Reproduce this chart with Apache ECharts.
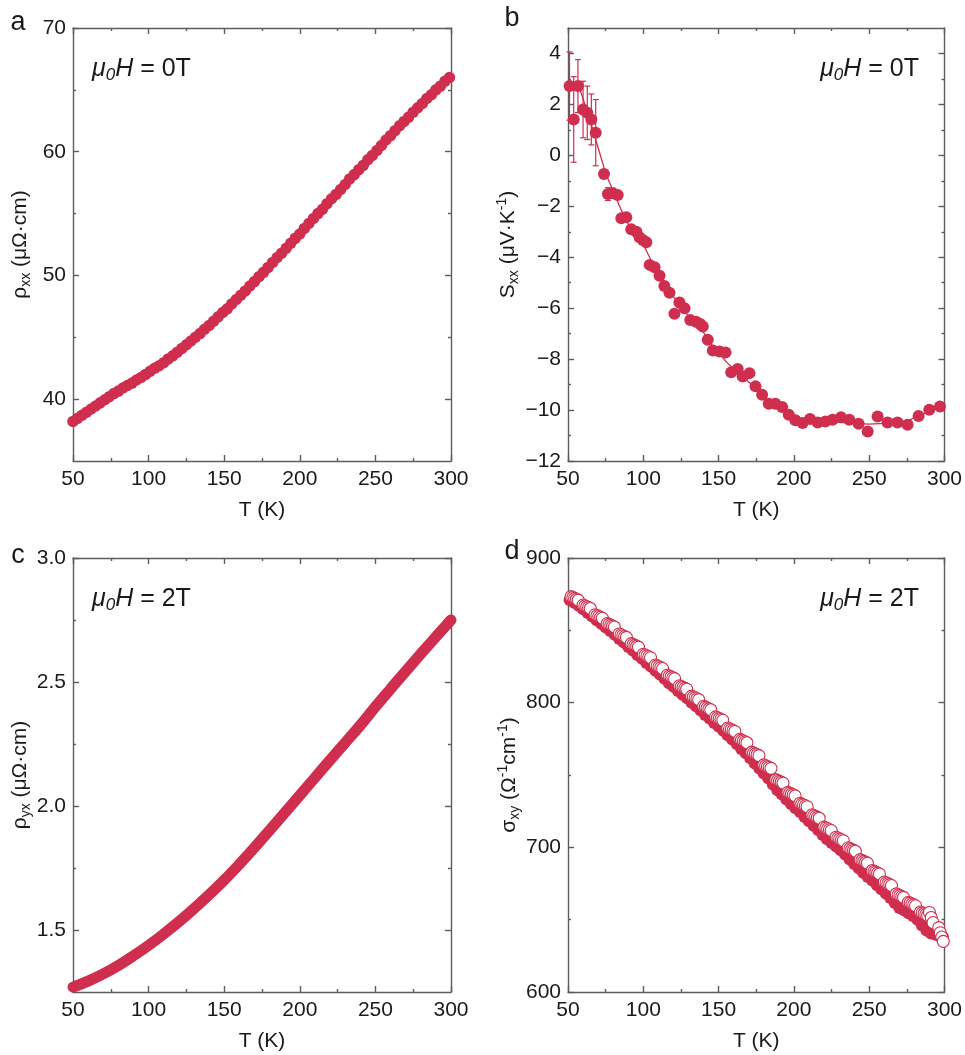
<!DOCTYPE html>
<html>
<head>
<meta charset="utf-8">
<script src="https://cdn.jsdelivr.net/npm/echarts@6/dist/echarts.min.js"></script>
<style>
  html, body { margin: 0; padding: 0; background: #ffffff; }
  #chart { width: 965px; height: 1055px; }
</style>
</head>
<body>
<div id="chart"></div>
<script>
// ---------- data ----------
// (a) longitudinal resistivity at 0 T
const T_A = [50,53,56,59,62,65,68,71,74,77,80,83,86,89,92,95,98,101,104,107,110,113,116,119,122,125,128,131,134,137,140,143,146,149,152,155,158,161,164,167,170,173,176,179,182,185,188,191,194,197,200,203,206,209,212,215,218,221,224,227,230,233,236,239,242,245,248,251,254,257,260,263,266,269,272,275,278,281,284,287,290,293,296,299];
const RHO_XX = [38.2,38.45,38.7,38.95,39.2,39.45,39.7,39.95,40.2,40.45,40.65,40.9,41.1,41.3,41.55,41.75,42.0,42.25,42.5,42.7,42.95,43.25,43.5,43.8,44.1,44.4,44.7,45.0,45.3,45.65,45.95,46.3,46.65,47.0,47.3,47.7,48.05,48.4,48.75,49.15,49.5,49.9,50.25,50.65,51.05,51.45,51.8,52.2,52.6,53.0,53.35,53.8,54.2,54.6,55.0,55.35,55.8,56.2,56.55,56.95,57.35,57.8,58.15,58.55,58.9,59.35,59.7,60.1,60.5,60.95,61.3,61.7,62.1,62.45,62.8,63.2,63.55,63.9,64.3,64.6,65.0,65.3,65.7,66.0];

// (b) Seebeck coefficient at 0 T, with error bar half-widths for the first points
const T_B = [51,53.8,56.6,60,62.8,65.5,68.4,73.9,76.5,79.8,83,85.4,88.7,92,95.4,97.5,99.7,102,104.2,107.5,110.8,114,117.4,120.7,124,127.4,131.2,135,137.8,139.5,142.8,146.2,150.6,154.6,158.4,162.7,166,170.5,174.5,178.9,183.3,187.7,192.2,196.6,201,205.8,210.7,215.8,220.9,225.7,231.3,236.8,243,249,255.6,262.2,268.8,275.5,282.8,289.9,297];
const S_XX = [2.72,1.41,2.72,1.80,1.67,1.41,0.89,-0.73,-1.52,-1.49,-1.56,-2.47,-2.43,-2.9,-3.0,-3.22,-3.32,-3.41,-4.3,-4.39,-4.73,-5.13,-5.39,-6.22,-5.78,-6.0,-6.46,-6.53,-6.62,-6.72,-7.24,-7.66,-7.7,-7.74,-8.52,-8.39,-8.68,-8.55,-9.07,-9.4,-9.75,-9.75,-9.88,-10.18,-10.4,-10.51,-10.35,-10.49,-10.45,-10.38,-10.28,-10.38,-10.54,-10.84,-10.25,-10.49,-10.49,-10.58,-10.23,-9.99,-9.86];
const S_ERR = [1.34,1.68,1.04,1.11,1.05,1.0,1.3,0,0.25,0.2,0.15];
const T_FIT = [50.5,57,59,65,70,75,80,85,90,95,100,105,110,115,120,125,130,135,140,145,150,155,160,165,170,175,180,185,190,195,200,205,210,220,230,240,250,260,270,275,280,290,297];
const S_FIT = [2.78,2.75,2.4,1.3,0.3,-0.7,-1.4,-2.1,-2.7,-3.1,-3.5,-4.1,-4.6,-5.1,-5.55,-5.95,-6.3,-6.6,-6.95,-7.4,-7.75,-8.1,-8.4,-8.65,-8.9,-9.15,-9.45,-9.7,-9.9,-10.1,-10.3,-10.42,-10.45,-10.47,-10.48,-10.52,-10.55,-10.52,-10.47,-10.45,-10.3,-10.05,-9.85];

// (c) Hall resistivity at 2 T
const T_C = [50,60,70,80,90,100,110,120,130,140,150,160,170,180,190,200,210,220,230,240,250,260,270,280,290,300];
const RHO_YX = [1.27,1.294,1.323,1.357,1.396,1.438,1.484,1.533,1.586,1.642,1.701,1.765,1.832,1.902,1.972,2.043,2.114,2.185,2.255,2.325,2.4,2.472,2.543,2.613,2.682,2.75];

// (d) Hall conductivity at 2 T: filled and open symbols
const T_D_FILLED = [51,54,57,60,63,66,69,72,75,78,81,84,87,90,93,96,99,102,105,108,111,114,117,120,123,126,129,132,135,138,141,144,147,150,153,156,159,162,165,168,171,174,177,180,183,186,189,192,195,198,201,204,207,210,213,216,219,222,225,228,231,234,237,240,243,246,249,252,255,258,261,264,267,270,273,276,279,282,285,288,291,294,297,299];
const SIGMA_XY_FILLED = [871,869,867,864.5,862,859.5,857,854.5,852,849.5,847,844,841.5,838.5,836,833,830.5,827.5,825,822,819.5,816.5,813.5,811,808,805.5,803,800,797.5,794.5,791.5,789,786,783.5,780.5,777.5,774.5,771.5,768,765,761.5,758,754.5,751,747.5,743.5,739.5,736.5,733,730,727,724.5,721,718,715,712,708.5,705.5,703,700.5,698,695,691.5,688.5,685.5,682.5,679.5,677,674,671,668,665,661.5,658,656.5,654.5,652.5,650,646,642.5,640.5,639.5,638.5,638];
const T_D_OPEN = [
  52,53.2,54.4,55.6,56.8, 60,61.2,62.4,63.6,64.8, 68,69.2,70.4,71.6,72.8, 76,77.2,78.4,79.6,80.8,
  84,85.2,86.4,87.6,88.8, 92,93.2,94.4,95.6,96.8, 100,101.2,102.4,103.6,104.8, 108,109.2,110.4,111.6,112.8,
  116,117.2,118.4,119.6,120.8, 124,125.2,126.4,127.6,128.8, 132,133.2,134.4,135.6,136.8, 140,141.2,142.4,143.6,144.8,
  148,149.2,150.4,151.6,152.8, 156,157.2,158.4,159.6,160.8, 164,165.2,166.4,167.6,168.8, 172,173.2,174.4,175.6,176.8,
  180,181.2,182.4,183.6,184.8, 188,189.2,190.4,191.6,192.8, 196,197.2,198.4,199.6,200.8, 204,205.2,206.4,207.6,208.8,
  212,213.2,214.4,215.6,216.8, 220,221.2,222.4,223.6,224.8, 228,229.2,230.4,231.6,232.8, 236,237.2,238.4,239.6,240.8,
  244,245.2,246.4,247.6,248.8, 252,253.2,254.4,255.6,256.8, 260,261.2,262.4,263.6,264.8, 268,269.2,270.4,271.6,272.8,
  276,277.2,278.4,279.6,280.8, 284,285.2,286.4,287.6,288.8, 290,291.2,292.4, 296.2,297.2,298.2,299.2
];
const SIGMA_XY_OPEN = [
  873.3,872.7,872.1,871.5,870.9, 867.5,866.9,866.3,865.7,865.1, 860.8,860.2,859.6,859,858.4, 854.7,854.1,853.5,852.9,852.3,
  847.5,846.9,846.3,845.7,845.1, 840.8,840.2,839.6,839,838.4, 833.5,832.9,832.3,831.7,831.1, 826,825.4,824.8,824.2,823.6,
  819,818.4,817.8,817.2,816.6, 811.7,811.1,810.5,809.9,809.3, 804.5,803.9,803.3,802.7,802.1, 797.5,796.9,796.3,795.7,795.1,
  790.2,789.6,789,788.4,787.8, 782.5,781.9,781.3,780.7,780.1, 774.7,774.1,773.5,772.9,772.3, 765.8,765.2,764.6,764,763.4,
  757,756.4,755.8,755.2,754.6, 746.8,746.2,745.6,745,744.4, 738,737.4,736.8,736.2,735.6, 730.5,729.9,729.3,728.7,728.1,
  722.5,721.9,721.3,720.7,720.1, 714,713.4,712.8,712.2,711.6, 707,706.4,705.8,705.2,704.6, 699.7,699.1,698.5,697.9,697.3,
  691.5,690.9,690.3,689.7,689.1, 684,683.4,682.8,682.2,681.6, 676,675.4,674.8,674.2,673.6, 667.8,667.2,666.6,666,665.4,
  662,661.4,660.8,660.2,659.6, 655.3,654.7,654.1,653.5,652.9, 655,651.5,648, 644.5,641,638,635
];

// axis ticks
const T_TICKS = { min: 50, max: 300, interval: 50 };
const Y_A = { min: 35, max: 70, major: [40, 50, 60, 70], minor: [45, 55, 65] };
const Y_B = { min: -12, max: 5, major: [-12, -10, -8, -6, -4, -2, 0, 2, 4], minor: [-11, -9, -7, -5, -3, -1, 1, 3] };
const Y_C = { min: 1.25, max: 3.0, major: [1.5, 2.0, 2.5, 3.0], minor: [1.75, 2.25, 2.75] };
const Y_D = { min: 600, max: 900, major: [600, 700, 800, 900], minor: [650, 750, 850] };

// ---------- styling ----------
const RED = '#CF2E4E';
const FONT = '"Liberation Sans", Arial, Helvetica, sans-serif';
const AXIS_COLOR = '#5c5c5c';
const TEXT_COLOR = '#1a1a1a';
const TICK_FONT = 21;
const NAME_FONT = 21;

const zip = (xs, ys) => xs.map((x, i) => [x, ys[i]]);

const panels = [
  { left: 73, top: 28, width: 378, height: 433, y: Y_A, fmt: v => String(v),
    yName: 'ρ{sub|xx} (μΩ·cm)', yNameGap: 40 },
  { left: 568, top: 28, width: 377, height: 433, y: Y_B, fmt: v => (v < 0 ? '\u2212' + Math.abs(v) : String(v)),
    yName: 'S{sub|xx} (μV·K{sup|-1})', yNameGap: 45 },
  { left: 73, top: 558, width: 378, height: 434, y: Y_C, fmt: v => v.toFixed(1),
    yName: 'ρ{sub|yx} (μΩ·cm)', yNameGap: 40 },
  { left: 568, top: 558, width: 377, height: 434, y: Y_D, fmt: v => String(v),
    yName: 'σ{sub|xy} (Ω{sup|-1}cm{sup|-1})', yNameGap: 45 }
];

const lineStyle = { color: AXIS_COLOR, width: 1.4 };
const labelStyle = { fontSize: TICK_FONT, color: TEXT_COLOR, fontFamily: FONT };
const nameRich = {
  sub: { fontSize: 14, lineHeight: 13, verticalAlign: 'bottom', fontFamily: FONT, color: TEXT_COLOR },
  sup: { fontSize: 14, lineHeight: 13, verticalAlign: 'top', fontFamily: FONT, color: TEXT_COLOR }
};

const grid = [], xAxis = [], yAxis = [];
panels.forEach((p, i) => {
  grid.push({ left: p.left, top: p.top, width: p.width, height: p.height, containLabel: false });
  const xBase = {
    gridIndex: i, type: 'value', min: T_TICKS.min, max: T_TICKS.max, interval: T_TICKS.interval,
    axisLine: { show: true, onZero: false, lineStyle },
    axisTick: { show: true, inside: true, length: 6, lineStyle },
    minorTick: { show: true, splitNumber: 2, length: 3, lineStyle },
    splitLine: { show: false }, minorSplitLine: { show: false }
  };
  xAxis.push(Object.assign({}, xBase, {
    position: 'bottom',
    axisLabel: Object.assign({ margin: 8 }, labelStyle),
    name: 'T (K)', nameLocation: 'middle', nameGap: 39,
    nameTextStyle: { fontSize: NAME_FONT, color: TEXT_COLOR, fontFamily: FONT }
  }));
  xAxis.push(Object.assign({}, xBase, { position: 'top', axisLabel: { show: false } }));

  const yBase = { gridIndex: i, type: 'value', min: p.y.min, max: p.y.max, splitLine: { show: false } };
  yAxis.push(Object.assign({}, yBase, {
    position: 'left',
    axisLine: { show: true, onZero: false, lineStyle },
    axisTick: { show: true, inside: true, length: 6, lineStyle, customValues: p.y.major },
    axisLabel: Object.assign({ margin: 7, customValues: p.y.major, formatter: p.fmt }, labelStyle),
    name: p.yName, nameLocation: 'middle', nameRotate: 90, nameGap: p.yNameGap,
    nameTextStyle: { fontSize: NAME_FONT, lineHeight: 26, color: TEXT_COLOR, fontFamily: FONT, rich: nameRich }
  }));
  yAxis.push(Object.assign({}, yBase, {
    position: 'right',
    axisLine: { show: true, onZero: false, lineStyle },
    axisTick: { show: true, inside: true, length: 6, lineStyle, customValues: p.y.major },
    axisLabel: { show: false }
  }));
  yAxis.push(Object.assign({}, yBase, {
    position: 'left', axisLine: { show: false },
    axisTick: { show: true, inside: true, length: 3, lineStyle, customValues: p.y.minor },
    axisLabel: { show: false }
  }));
  yAxis.push(Object.assign({}, yBase, {
    position: 'right', axisLine: { show: false },
    axisTick: { show: true, inside: true, length: 3, lineStyle, customValues: p.y.minor },
    axisLabel: { show: false }
  }));
});

const series = [
  // (a)
  { type: 'scatter', xAxisIndex: 0, yAxisIndex: 0, data: zip(T_A, RHO_XX), symbolSize: 11.5,
    itemStyle: { color: RED, opacity: 1 }, clip: true, silent: true },
  // (b) trend line
  { type: 'line', xAxisIndex: 2, yAxisIndex: 4, data: zip(T_FIT, S_FIT), symbol: 'none',
    lineStyle: { color: RED, width: 1.3 }, clip: true, silent: true },
  // (b) error bars
  { type: 'custom', xAxisIndex: 2, yAxisIndex: 4, silent: true, clip: false,
    data: S_ERR.map((e, i) => [T_B[i], S_XX[i] - e, S_XX[i] + e]).filter(d => d[2] > d[1]),
    renderItem: function (params, api) {
      const lo = api.coord([api.value(0), api.value(1)]);
      const hi = api.coord([api.value(0), api.value(2)]);
      const cap = 3;
      const st = { stroke: RED, lineWidth: 1.2 };
      return { type: 'group', children: [
        { type: 'line', shape: { x1: lo[0], y1: lo[1], x2: hi[0], y2: hi[1] }, style: st },
        { type: 'line', shape: { x1: lo[0] - cap, y1: lo[1], x2: lo[0] + cap, y2: lo[1] }, style: st },
        { type: 'line', shape: { x1: hi[0] - cap, y1: hi[1], x2: hi[0] + cap, y2: hi[1] }, style: st }
      ] };
    }
  },
  // (b) data points
  { type: 'scatter', xAxisIndex: 2, yAxisIndex: 4, data: zip(T_B, S_XX), symbolSize: 12,
    itemStyle: { color: RED, opacity: 1 }, clip: true, silent: true },
  // (c)
  { type: 'line', xAxisIndex: 4, yAxisIndex: 8, data: zip(T_C, RHO_YX), symbol: 'none', smooth: 0.4,
    lineStyle: { color: RED, width: 11, cap: 'round' }, clip: true, silent: true },
  // (d) filled symbols
  { type: 'scatter', xAxisIndex: 6, yAxisIndex: 12, data: zip(T_D_FILLED, SIGMA_XY_FILLED), symbolSize: 12,
    itemStyle: { color: RED, opacity: 1 }, clip: true, silent: true },
  // (d) open symbols
  { type: 'scatter', xAxisIndex: 6, yAxisIndex: 12, data: zip(T_D_OPEN, SIGMA_XY_OPEN), symbolSize: 12,
    itemStyle: { color: '#ffffff', borderColor: RED, borderWidth: 1.1, opacity: 1 }, clip: true, silent: true }
];

// field labels and panel letters
const fieldRich = {
  i: { fontSize: 25, fontStyle: 'italic', lineHeight: 30, fontFamily: FONT, fill: TEXT_COLOR },
  s: { fontSize: 17, fontStyle: 'italic', lineHeight: 15, verticalAlign: 'bottom', fontFamily: FONT, fill: TEXT_COLOR },
  n: { fontSize: 25, lineHeight: 30, fontFamily: FONT, fill: TEXT_COLOR }
};
function fieldLabel(text, x, y, align) {
  return { type: 'text', x: x, y: y, silent: true,
    style: { text: text, rich: fieldRich, align: align, verticalAlign: 'middle', fill: TEXT_COLOR } };
}
function letter(ch, x, y) {
  return { type: 'text', x: x, y: y, silent: true,
    style: { text: ch, font: '27px ' + FONT, fill: TEXT_COLOR, align: 'center', verticalAlign: 'middle' } };
}

const graphic = [
  fieldLabel('{i|μ}{s|0}{i|H}{n| = 0T}', 92, 69, 'left'),
  fieldLabel('{i|μ}{s|0}{i|H}{n| = 0T}', 919, 69, 'right'),
  fieldLabel('{i|μ}{s|0}{i|H}{n| = 2T}', 92, 599, 'left'),
  fieldLabel('{i|μ}{s|0}{i|H}{n| = 2T}', 919, 599, 'right'),
  letter('a', 18, 23),
  letter('b', 512, 19),
  letter('c', 18, 556),
  letter('d', 512, 552)
];

const chart = echarts.init(document.getElementById('chart'), null, { renderer: 'canvas' });
chart.setOption({
  animation: false,
  backgroundColor: '#ffffff',
  textStyle: { fontFamily: FONT },
  grid, xAxis, yAxis, series, graphic
});
</script>
</body>
</html>
